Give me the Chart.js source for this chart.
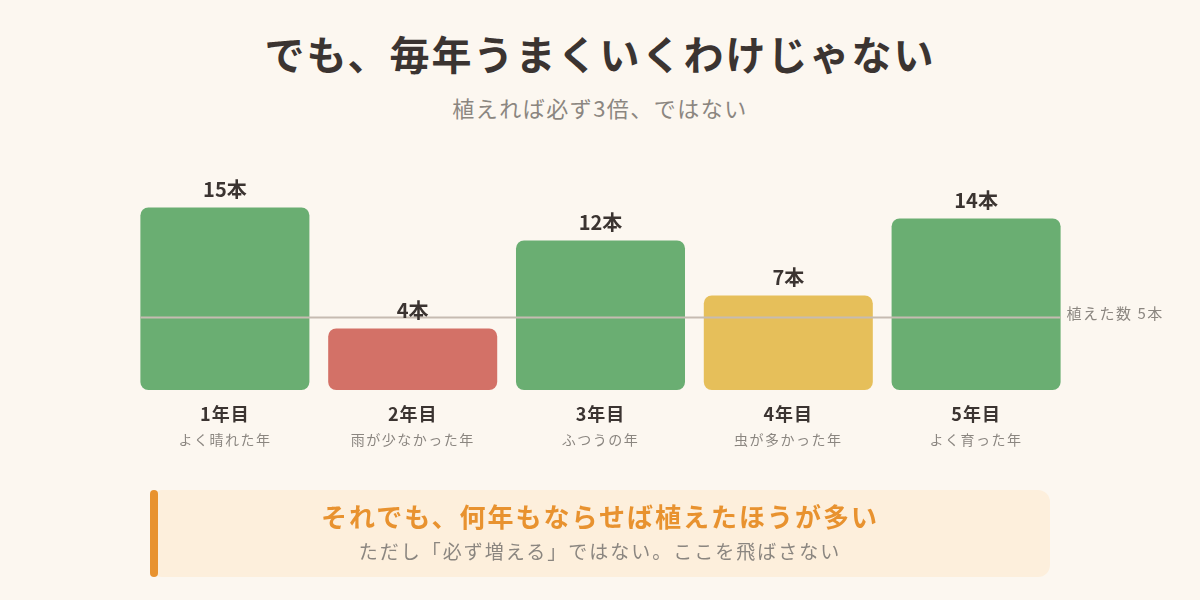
<!DOCTYPE html>
<html>
<head>
	<meta charset="utf-8">
	<title>でも、毎年うまくいくわけじゃない</title>
	<script src="https://cdn.jsdelivr.net/npm/chart.js@4.4.1/dist/chart.umd.min.js"></script>
	<style>
		html, body { margin: 0; padding: 0; }
		body {
			width: 1200px; height: 600px; overflow: hidden; position: relative;
			background: #fcf7f0;
			font-family: "Noto Sans CJK JP", "Noto Sans", sans-serif;
		}
		#title {
			position: absolute; left: 0; width: 1200px; top: 25px;
			text-align: center; font-size: 40px; font-weight: 700; color: #3b3431;
			letter-spacing: 2px; line-height: 56px;
		}
		#subtitle {
			position: absolute; left: 0; width: 1200px; top: 91px;
			text-align: center; font-size: 22px; color: #8b8680;
			letter-spacing: 1.5px; line-height: 32px;
		}
		#chart-wrap { position: absolute; left: 0; top: 0; width: 1200px; height: 600px; }
		#note {
			position: absolute; left: 150px; top: 490px; width: 900px; height: 87px;
			background: #fdefdc; border-radius: 12px;
		}
		#note .bar {
			position: absolute; left: 0; top: 0; width: 8px; height: 87px;
			background: #e8922f; border-radius: 4px;
		}
		#note .head {
			position: absolute; left: 0; right: 0; top: 8px; text-align: center;
			font-size: 26px; font-weight: 700; color: #e8922f; letter-spacing: 2px; line-height: 36px;
		}
		#note .sub {
			position: absolute; left: 0; right: 0; top: 47px; text-align: center;
			font-size: 19px; color: #8b8680; letter-spacing: 2px; line-height: 28px;
		}
	</style>
</head>
<body>
	<div id="title">でも、毎年うまくいくわけじゃない</div>
	<div id="subtitle">植えれば必ず3倍、ではない</div>
	<div id="chart-wrap"><canvas id="chart1" width="1200" height="600"></canvas></div>
	<div id="note">
		<div class="bar"></div>
		<div class="head">それでも、何年もならせば植えたほうが多い</div>
		<div class="sub">ただし「必ず増える」ではない。ここを飛ばさない</div>
	</div>

	<script type="text/javascript">
		var years = ['1年目', '2年目', '3年目', '4年目', '5年目'];
		var notes = ['よく晴れた年', '雨が少なかった年', 'ふつうの年', '虫が多かった年', 'よく育った年'];
		var harvest = [15, 4, 12, 7, 14];
		var planted = 5;
		var barColors = ['#6aae72', '#d37167', '#6aae72', '#e6bf5a', '#6aae72'];

		var yMin = -1.6;
		var yMax = 17;

		var labelsPlugin = {
			id: 'labels',
			afterDatasetsDraw: function(chart){
				var ctx = chart.ctx;
				var meta = chart.getDatasetMeta(0);
				var y = chart.scales.y;
				var x = chart.scales.x;
				ctx.save();

				// planted line
				var first = meta.data[0], last = meta.data[meta.data.length - 1];
				var ly = y.getPixelForValue(planted);
				ctx.strokeStyle = '#c6bbb1';
				ctx.lineWidth = 2;
				ctx.beginPath();
				ctx.moveTo(first.x - first.width / 2, ly);
				ctx.lineTo(last.x + last.width / 2, ly);
				ctx.stroke();
				ctx.fillStyle = '#8b8680';
				ctx.font = '15px "Noto Sans CJK JP"';
				ctx.letterSpacing = '1.5px';
				ctx.textAlign = 'left';
				ctx.textBaseline = 'middle';
				ctx.fillText('植えた数 ' + planted + '本', last.x + last.width / 2 + 6, ly - 4);

				// values
				ctx.fillStyle = '#3b3431';
				ctx.font = 'bold 20px "Noto Sans CJK JP"';
				ctx.letterSpacing = '0px';
				ctx.textAlign = 'center';
				ctx.textBaseline = 'alphabetic';
				meta.data.forEach(function(bar, i){
					ctx.fillText(harvest[i] + '本', bar.x, bar.y - 10);
				});

				// category labels
				years.forEach(function(lbl, i){
					var px = x.getPixelForValue(i);
					ctx.fillStyle = '#3b3431';
					ctx.font = 'bold 18px "Noto Sans CJK JP"';
					ctx.letterSpacing = '1px';
					ctx.textBaseline = 'middle';
					ctx.fillText(lbl, px, 414);
					ctx.fillStyle = '#8b8680';
					ctx.font = '14px "Noto Sans CJK JP"';
					ctx.letterSpacing = '1.5px';
					ctx.fillText(notes[i], px, 440);
				});
				ctx.restore();
			}
		};

		var ctx1 = document.getElementById('chart1');
		var chart1 = new Chart(ctx1, {
			type: 'bar',
			data: {
				labels: years,
				datasets: [{
					data: harvest,
					base: yMin,
					backgroundColor: barColors,
					borderRadius: 8,
					borderSkipped: false,
					barPercentage: 0.9,
					categoryPercentage: 1.0
				}]
			},
			options: {
				responsive: false,
				animation: false,
				events: [],
				layout: { padding: { left: 131, right: 130, top: 185.4, bottom: 210 } },
				plugins: { legend: { display: false }, tooltip: { enabled: false } },
				scales: {
					x: { display: false, grid: { display: false } },
					y: { display: false, min: yMin, max: yMax, grid: { display: false } }
				}
			},
			plugins: [labelsPlugin]
		});
	</script>
</body>
</html>
